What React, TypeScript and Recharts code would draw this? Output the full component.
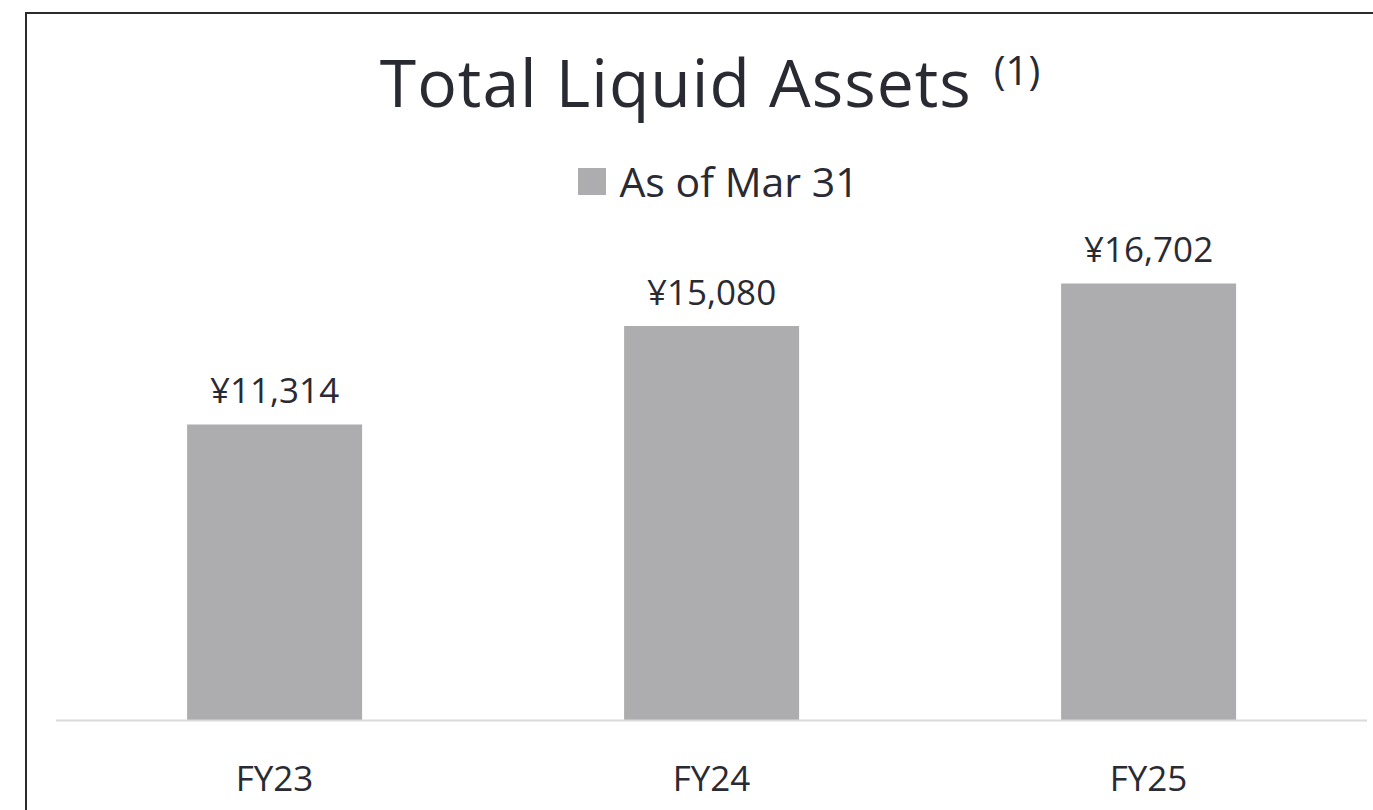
import { Bar, BarChart, LabelList, Legend, XAxis, YAxis } from "recharts"

const categories = ["FY23", "FY24", "FY25"]
const liquidAssets = [11314, 15080, 16702]
const seriesName = "As of Mar 31"

const BAR_COLOR = "#adadaf"
const TEXT_COLOR = "#2a2a33"
const FONT = "'Open Sans', 'Noto Sans', sans-serif"

const chartData = categories.map((name, i) => ({ name, value: liquidAssets[i] }))

function LegendContent() {
  return (
    <div
      style={{
        display: "flex",
        justifyContent: "center",
        alignItems: "flex-start",
        paddingLeft: 64,
        fontFamily: FONT,
      }}
    >
      <span
        style={{
          display: "inline-block",
          width: 28,
          height: 27,
          marginTop: 7.5,
          marginRight: 13,
          background: BAR_COLOR,
        }}
      />
      <span style={{ fontSize: 41, lineHeight: "41px", color: TEXT_COLOR }}>{seriesName}</span>
    </div>
  )
}

export default function App() {
  return (
    <div
      style={{
        position: "absolute",
        left: 0,
        top: 0,
        width: 1373,
        height: 810,
        overflow: "hidden",
        background: "#fff",
      }}
    >
      {/* frame, only top and left edges are in view */}
      <div
        style={{
          position: "absolute",
          left: 25,
          top: 12,
          width: 1400,
          height: 900,
          borderLeft: "2px solid #2b2b2f",
          borderTop: "2px solid #2b2b2f",
        }}
      />
      <BarChart
        width={1373}
        height={810}
        data={chartData}
        margin={{ top: 249.5, right: 6, bottom: 29.5, left: 56 }}
        barCategoryGap="30%"
      >
        <XAxis
          dataKey="name"
          height={60}
          tickLine={false}
          tickSize={0}
          tickMargin={46}
          axisLine={{ stroke: "#dadadc", strokeWidth: 2 }}
          tick={{ fontSize: 35, fill: TEXT_COLOR, fontFamily: FONT }}
        />
        <YAxis hide domain={[0, 18000]} />
        <Legend
          layout="horizontal"
          verticalAlign="middle"
          align="center"
          wrapperStyle={{ top: 160.5, left: 0, width: 1373 }}
          content={() => <LegendContent />}
        />
        <Bar dataKey="value" name={seriesName} fill={BAR_COLOR} isAnimationActive={false}>
          <LabelList
            dataKey="value"
            position="top"
            offset={21}
            formatter={(v: number) => `¥${v.toLocaleString("en-US")}`}
            style={{ fontSize: 35, fill: TEXT_COLOR, fontFamily: FONT }}
          />
        </Bar>
      </BarChart>
      <svg
        width={1373}
        height={140}
        style={{ position: "absolute", left: 0, top: 0, pointerEvents: "none" }}
      >
        <text
          x={710}
          y={107}
          textAnchor="middle"
          fill={TEXT_COLOR}
          fontFamily={FONT}
          fontSize={66}
          letterSpacing={1}
        >
          Total Liquid Assets
          <tspan dx={22} dy={-22} fontSize={40} letterSpacing={0}>
            (1)
          </tspan>
        </text>
      </svg>
    </div>
  )
}
